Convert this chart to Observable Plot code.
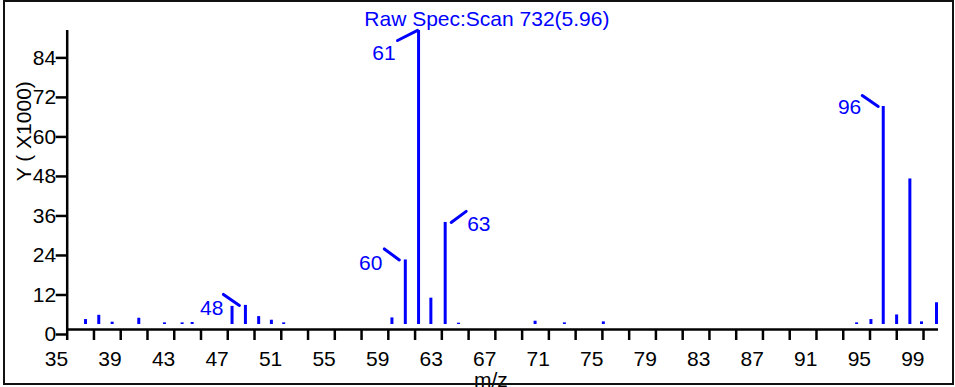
<!DOCTYPE html>
<html>
<head>
<meta charset="utf-8">
<script src="https://cdn.jsdelivr.net/npm/d3@7"></script>
<script src="https://cdn.jsdelivr.net/npm/@observablehq/plot@0.6"></script>
<style>
  body { margin: 0; background: #fff; }
  #wrap { position: relative; width: 955px; height: 387px; overflow: hidden; background: #fff; }
  #border { position: absolute; left: 3px; top: 0; width: 951px; height: 385px; border: 2.5px solid #111; box-sizing: border-box; pointer-events: none; }
  #wrap svg { position: absolute; left: 0; top: 0; font-family: "Liberation Sans", Arial, sans-serif; }
</style>
</head>
<body>
<div id="wrap"><div id="border"></div></div>
<script>
// ---- data ----
const titleText = ["Raw Spec:Scan 732(5.96)"];
const xLabel = ["m/z"];
const yLabel = ["Y ( X1000)"];

const mz = [36.37, 37.36, 38.36, 40.35, 42.27, 43.59, 44.34, 47.32, 48.32, 49.31, 50.26, 51.18,
            59.27, 60.27, 61.26, 62.18, 63.25, 64.25, 69.97, 72.16, 75.07,
            94.0, 95.07, 95.99, 96.99, 97.98, 98.85, 99.97];
const intensity = [1.5, 2.8, 0.7, 1.9, 0.5, 0.5, 0.6, 5.5, 5.8, 2.4, 1.3, 0.5,
                   2.0, 19.6, 89.3, 8.0, 31.0, 0.4, 1.0, 0.5, 0.8,
                   0.5, 1.5, 66.2, 2.9, 44.2, 0.8, 6.6];

const peakLabels = ["48", "60", "61", "63", "96"];

const yTicks = [0, 12, 24, 36, 48, 60, 72, 84];
const xMinorTicks = [35, 37, 39, 41, 43, 45, 47, 49, 51, 53, 55, 57, 59, 61, 63, 65, 67,
                     69, 71, 73, 75, 77, 79, 81, 83, 85, 87, 89, 91, 93, 95, 97, 99];
const xTickLabels = [35, 39, 43, 47, 51, 55, 59, 63, 67, 71, 75, 79, 83, 87, 91, 95, 99];

// ---- build table ----
const peaks = mz.map((m, i) => ({mz: m, v: intensity[i]}));

const BLUE = "#0000ff";
const BAR_LIFT = -5; // bars sit slightly above the axis line
const lineShape = {draw(ctx, l) { ctx.moveTo(0, 0); ctx.lineTo(0, -l); }};

// annotation placement (pixels, relative to peak top)
const place = {
  "48": {angle: 304.5, len: 19.4, ldx: -6, anchor: "end",   tdx: -22, tdy: 3},
  "60": {angle: 306.3, len: 18.6, ldx: -6, anchor: "end",   tdx: -23, tdy: 3},
  "61": {angle: 243.4, len: 22.4, ldx: -1, anchor: "end",   tdx: -23, tdy: 23},
  "63": {angle: 53.7,  len: 18.6, ldx: 6,  anchor: "start", tdx: 22,  tdy: 2},
  "96": {angle: 304.5, len: 19.4, ldx: -5, anchor: "end",   tdx: -22, tdy: 1}
};

const annotationMarks = peakLabels.flatMap(lab => {
  const p = peaks.filter(d => Math.round(d.mz) === +lab);
  const o = place[lab];
  return [
    Plot.vector(p, {x: "mz", y: "v", rotate: o.angle, length: o.len, anchor: "start",
      shape: lineShape, stroke: BLUE, strokeWidth: 3, dx: o.ldx, dy: BAR_LIFT}),
    Plot.text(p, {x: "mz", y: "v", text: () => lab, textAnchor: o.anchor, lineAnchor: "middle",
      fill: BLUE, fontSize: 21, dx: o.tdx, dy: BAR_LIFT + o.tdy})
  ];
});

const chart = Plot.plot({
  width: 955,
  height: 387,
  marginLeft: 66.7,
  marginRight: 17,
  marginTop: 30,
  marginBottom: 58,
  style: {background: "transparent", fontFamily: "'Liberation Sans', Arial, sans-serif"},
  x: {domain: [35, 100.12]},
  y: {domain: [0, 90.8]},
  marks: [
    // bars
    Plot.ruleX(peaks, {x: "mz", y1: 0, y2: "v", stroke: BLUE, strokeWidth: 3, dy: BAR_LIFT}),
    ...annotationMarks,
    // axes
    Plot.axisY(yTicks, {tickSize: 11, tickPadding: 0, strokeWidth: 2.5, stroke: "#000", fill: "#000",
      fontSize: 21, dy: 5, label: null}),
    Plot.axisX(xMinorTicks, {tickSize: 11, tickFormat: () => "", strokeWidth: 2.5, stroke: "#000", label: null}),
    Plot.axisX(xTickLabels, {tickSize: 0, tickPadding: 21.5, fontSize: 21, fill: "#000",
      textAnchor: "end", dx: 1, label: null}),
    Plot.ruleX([35], {stroke: "#000", strokeWidth: 2.5}),
    Plot.ruleY([0], {stroke: "#000", strokeWidth: 2.5}),
    // texts
    Plot.text(titleText, {text: d => d, frameAnchor: "top", dx: -16, dy: -11, fill: BLUE,
      fontSize: 21, textAnchor: "middle", lineAnchor: "middle"}),
    Plot.text(yLabel, {text: d => d, frameAnchor: "left", rotate: -90, dx: -42.7, dy: -48.8,
      fill: "#000", fontSize: 21, textAnchor: "middle", lineAnchor: "middle"}),
    Plot.text(xLabel, {text: d => d, frameAnchor: "bottom", dx: -12, dy: 51,
      fill: "#000", fontSize: 21, textAnchor: "middle", lineAnchor: "middle"})
  ]
});

document.getElementById("wrap").insertBefore(chart, document.getElementById("border"));
</script>
</body>
</html>
